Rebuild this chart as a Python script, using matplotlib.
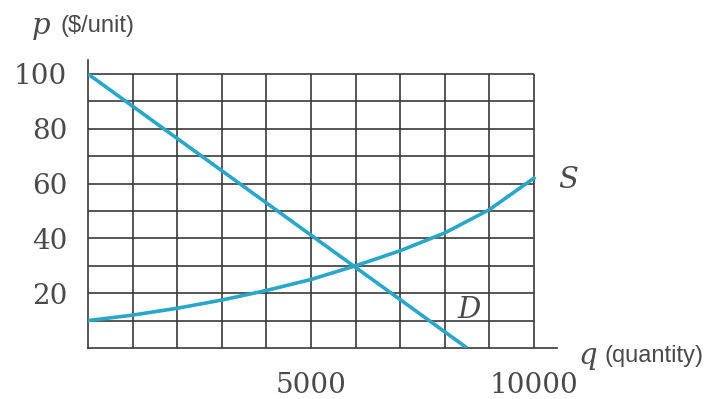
import matplotlib.pyplot as plt
import numpy as np

# 데이터
q_grid = [1000, 2000, 3000, 4000, 5000, 6000, 7000, 8000, 9000, 10000]
p_grid = [10, 20, 30, 40, 50, 60, 70, 80, 90, 100]
x_ticks = [5000, 10000]
y_ticks = [20, 40, 60, 80, 100]

demand_q = [0, 8500]
demand_p = [100, 0]

supply_q = [0, 1000, 2000, 3000, 4000, 5000, 6000, 7000, 8000, 9000, 10000]
supply_p = [10, 12, 14.5, 17.5, 21, 25, 30, 35.5, 42, 50.5, 62]

line_color = "#2aa6c9"
grid_color = "#3a3a3a"
text_color = "#4a4a4a"

fig = plt.figure(figsize=(7.13, 3.99), dpi=100)
ax = fig.add_axes([88 / 713, 51 / 399, 469 / 713, 288 / 399])

# 격자
ax.hlines(p_grid, 0, 10000, color=grid_color, lw=1.2, zorder=1)
ax.vlines(q_grid, 0, 100, color=grid_color, lw=1.2, zorder=1)

# 곡선
ax.plot(demand_q, demand_p, color=line_color, lw=2.6, zorder=3, solid_capstyle="butt")
ax.plot(supply_q, supply_p, color=line_color, lw=2.6, zorder=3)

ax.set_xlim(0, 10516)
ax.set_ylim(0, 105.1)

for s in ["top", "right"]:
    ax.spines[s].set_visible(False)
for s in ["left", "bottom"]:
    ax.spines[s].set_color(grid_color)
    ax.spines[s].set_linewidth(1.2)

ax.set_xticks(x_ticks)
ax.set_yticks(y_ticks)
ax.tick_params(length=0, labelsize=20, labelcolor=text_color)
ax.tick_params(axis="x", pad=17)
ax.tick_params(axis="y", pad=15)
for lab in ax.get_xticklabels() + ax.get_yticklabels():
    lab.set_family("DejaVu Serif")

# 축 이름
fig.text(32 / 713, 1 - 26 / 399, "p", fontsize=21, style="italic", family="DejaVu Serif",
         color=text_color, va="center")
fig.text(60 / 713, 1 - 26 / 399, "($/unit)", fontsize=17, family="Liberation Sans",
         color=text_color, va="center")
fig.text(578 / 713, 1 - 356 / 399, "q", fontsize=21, style="italic", family="DejaVu Serif",
         color=text_color, va="center")
fig.text(604 / 713, 1 - 356 / 399, "(quantity)", fontsize=17, family="Liberation Sans",
         color=text_color, va="center")

# 곡선 이름
fig.text(558 / 713, 1 - 180 / 399, "S", fontsize=21, style="italic", family="DejaVu Serif",
         color=text_color, va="center")
fig.text(457 / 713, 1 - 310 / 399, "D", fontsize=21, style="italic", family="DejaVu Serif",
         color=text_color, va="center")

fig.savefig("out.png", dpi=100)
